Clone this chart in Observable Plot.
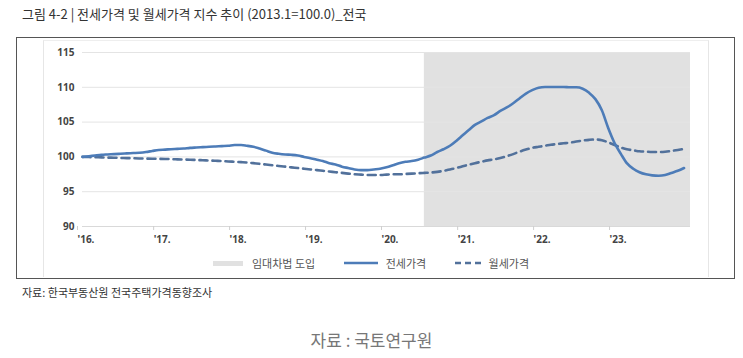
<!DOCTYPE html>
<html><head><meta charset="utf-8">
<script src="https://cdn.jsdelivr.net/npm/d3@7"></script>
<script src="https://cdn.jsdelivr.net/npm/@observablehq/plot@0.6"></script>
<style>
body{margin:0;background:#fff;font-family:"Noto Sans CJK KR","Noto Sans",sans-serif;}
#wrap{position:relative;width:743px;height:358px;overflow:hidden;}
.abs{position:absolute;white-space:nowrap;}
</style></head>
<body><div id="wrap"></div>
<script>
const title = "그림 4-2 | 전세가격 및 월세가격 지수 추이 (2013.1=100.0)_전국";
const source = "자료: 한국부동산원 전국주택가격동향조사";
const caption = "자료 : 국토연구원";
const seriesNames = ["전세가격", "월세가격"];
const policyLabel = "임대차법 도입";
const policyStart = "2020-07-01";
const policyEnd = "2024-01-01";
const startMonth = "2016-01-01";
const yTicks = [90, 95, 100, 105, 110, 115];
const xTickYears = [2016, 2017, 2018, 2019, 2020, 2021, 2022, 2023];

// 전세가격 지수 (monthly, 2016.01 - 2023.12)
const jeonse = [
  100.0, 100.1, 100.2, 100.3, 100.35, 100.4, 100.45, 100.5, 100.55, 100.6, 100.7, 100.85,
  101.0, 101.05, 101.1, 101.15, 101.2, 101.3, 101.35, 101.4, 101.45, 101.5, 101.55, 101.6,
  101.7, 101.7, 101.6, 101.45, 101.2, 100.9, 100.6, 100.45, 100.35, 100.3, 100.2, 100.0,
  99.8, 99.6, 99.4, 99.1, 98.9, 98.6, 98.4, 98.2, 98.1, 98.1, 98.2, 98.3,
  98.5, 98.8, 99.1, 99.3, 99.4, 99.6, 99.9, 100.2, 100.7, 101.1, 101.6, 102.3,
  103.1, 103.9, 104.6, 105.1, 105.6, 106.0, 106.6, 107.1, 107.7, 108.4, 109.1, 109.6,
  109.95, 110.05, 110.05, 110.05, 110.05, 110.0, 110.0, 109.8, 109.2, 108.3, 106.7, 104.2,
  102.0, 100.4, 99.1, 98.3, 97.8, 97.5, 97.35, 97.3, 97.4, 97.7, 98.0, 98.4
];
// 월세가격 지수 (monthly, 2016.01 - 2023.12)
const wolse = [
  100.0, 99.98, 99.95, 99.93, 99.9, 99.88, 99.85, 99.83, 99.8, 99.78, 99.76, 99.74,
  99.72, 99.7, 99.68, 99.65, 99.62, 99.6, 99.56, 99.52, 99.48, 99.44, 99.4, 99.35,
  99.3, 99.25, 99.2, 99.1, 99.0, 98.9, 98.8, 98.7, 98.6, 98.5, 98.4, 98.3,
  98.2, 98.1, 98.0, 97.9, 97.8, 97.7, 97.6, 97.5, 97.45, 97.4, 97.4, 97.4,
  97.45, 97.5, 97.5, 97.55, 97.6, 97.65, 97.7, 97.75, 97.85, 98.0, 98.2, 98.4,
  98.65, 98.9, 99.1, 99.3, 99.5, 99.65, 99.85, 100.1, 100.4, 100.75, 101.05, 101.3,
  101.45, 101.6, 101.75, 101.85, 101.95, 102.05, 102.2, 102.35, 102.45, 102.5, 102.4, 102.1,
  101.7, 101.35, 101.1, 100.95, 100.8, 100.75, 100.7, 100.7, 100.75, 100.85, 101.0, 101.15
];

const colJeonse = "#4d7cb8";
const colWolse = "#52719b";
const colPolicy = "#e1e1e1";

const t0 = new Date(startMonth);
const dateAt = i => new Date(Date.UTC(t0.getUTCFullYear(), t0.getUTCMonth() + i, 1));
const dJ = jeonse.map((v, i) => ({date: dateAt(i), value: v}));
const dW = wolse.map((v, i) => ({date: dateAt(i), value: v}));
const policy = [{x1: new Date(policyStart), x2: new Date(policyEnd), label: policyLabel}];
const yearDates = xTickYears.map(y => new Date(Date.UTC(y, 0, 1)));

const chart = Plot.plot({
  width: 743, height: 358,
  marginLeft: 82, marginRight: 53, marginTop: 52, marginBottom: 132,
  style: {fontFamily: "'Noto Sans', 'DejaVu Sans', sans-serif", background: "transparent"},
  x: {type: "utc", domain: [new Date(startMonth), new Date(policyEnd)], axis: null},
  y: {domain: [90, 115], axis: null},
  marks: [
    Plot.rect(policy, {x1: "x1", x2: "x2", y1: 90, y2: 115, fill: colPolicy}),
    Plot.ruleY(yTicks.slice(1), {stroke: "#e4e4e4", strokeWidth: 1}),
    Plot.ruleY([90], {stroke: "#d9d9d9", strokeWidth: 1}),
    Plot.axisX({ticks: yearDates, label: null, tickFormat: d => "'" + String(d.getUTCFullYear()).slice(2) + ".", tickSize: 4, stroke: "#cfcfcf", tickPadding: 5, fontSize: 10, fontWeight: "bold", fill: "#444", textAnchor: "start", dx: -5}),
    Plot.axisY({ticks: yTicks, label: null, tickSize: 0, tickPadding: 8, fontSize: 10, fontWeight: "bold", fill: "#444"}),
    Plot.line(dW, {x: "date", y: "value", stroke: colWolse, strokeWidth: 2.6, strokeDasharray: "8,5", curve: "monotone-x"}),
    Plot.line(dJ, {x: "date", y: "value", stroke: colJeonse, strokeWidth: 2.6, curve: "monotone-x"})
  ]
});

const wrap = document.getElementById("wrap");
function add(html, css){const d=document.createElement("div");d.className="abs";d.innerHTML=html;Object.assign(d.style,css);wrap.appendChild(d);return d;}

add("", {left:"16px", top:"37px", width:"717px", height:"240px", border:"1.5px solid #555"});
add("", {left:"43px", top:"40px", width:"664px", height:"236px", borderLeft:"1px solid #e6e6e6", borderRight:"1px solid #e6e6e6", borderTop:"1px solid #eee"});
chart.style.position = "absolute"; chart.style.left = "0"; chart.style.top = "0";
wrap.appendChild(chart);

add(title, {left:"22px", top:"4px", fontSize:"13px", color:"#333", fontFamily:"'Noto Sans CJK KR',sans-serif"});

const lg = `
<span style="display:inline-block;width:30px;height:5px;background:${colPolicy};vertical-align:middle;margin-right:9px"></span><span style="vertical-align:middle">${policyLabel}</span>
<svg width="34" height="6" style="vertical-align:middle;margin-left:26px;margin-right:8px"><line x1="0" y1="3" x2="34" y2="3" stroke="${colJeonse}" stroke-width="2.5"/></svg><span style="vertical-align:middle">${seriesNames[0]}</span>
<svg width="26" height="6" style="vertical-align:middle;margin-left:26px;margin-right:8px"><line x1="0" y1="3" x2="26" y2="3" stroke="${colWolse}" stroke-width="2.5" stroke-dasharray="6,4"/></svg><span style="vertical-align:middle">${seriesNames[1]}</span>`;
add(lg, {left:"213px", top:"252px", fontSize:"11px", color:"#555", fontFamily:"'Noto Sans CJK KR',sans-serif", lineHeight:"18px"});

add(source, {left:"22px", top:"284px", fontSize:"11px", color:"#333", fontFamily:"'Noto Sans CJK KR',sans-serif"});
add(caption, {left:"0", width:"743px", textAlign:"center", top:"327px", fontSize:"17px", color:"#777", fontFamily:"'Noto Sans CJK KR',sans-serif"});
</script>
</body></html>
